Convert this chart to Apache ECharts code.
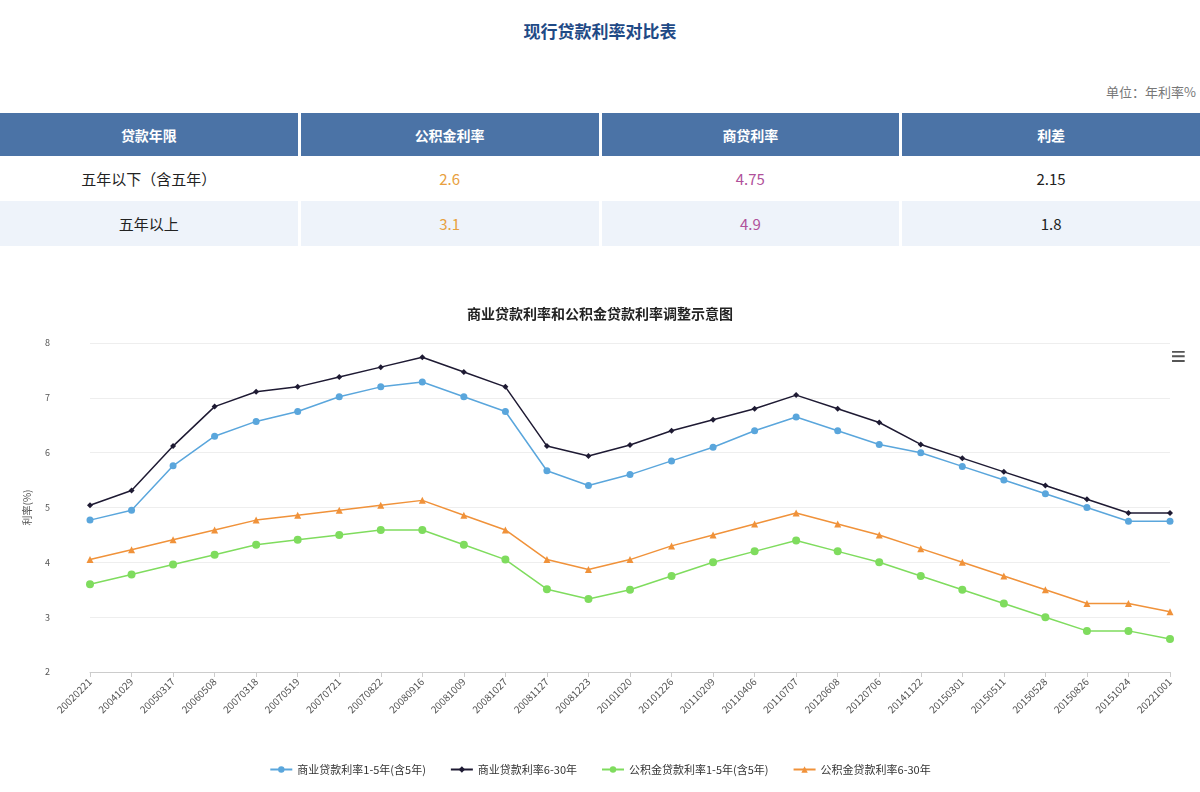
<!DOCTYPE html>
<html><head><meta charset="utf-8">
<script src="https://cdn.jsdelivr.net/npm/echarts@6/dist/echarts.min.js"></script>
<style>
body{margin:0;width:1200px;height:792px;background:#fff;font-family:"Noto Sans CJK SC",sans-serif;overflow:hidden;position:relative}
#t{position:absolute;top:18px;width:1200px;text-align:center;font-size:17px;font-weight:bold;color:#1f4a86}
#u{position:absolute;top:82px;right:4px;font-size:13px;color:#777}
table{position:absolute;top:113px;left:-3px;width:1206px;table-layout:fixed;border-collapse:separate;border-spacing:3px 0;font-size:15px;text-align:center}
th{background:#4b73a6;color:#fff;height:41px;font-weight:bold;font-size:14px}
td{height:43px;color:#222}
tr.r2 td{background:#eef3fa}
#c{position:absolute;top:290px;left:0;width:1200px;height:502px}
</style></head><body>
<div id="t">现行贷款利率对比表</div>
<div id="u">单位：年利率%</div>
<table>
<tr><th>贷款年限</th><th>公积金利率</th><th>商贷利率</th><th>利差</th></tr>
<tr><td>五年以下（含五年）</td><td style="color:#e8a040">2.6</td><td style="color:#b0509a">4.75</td><td>2.15</td></tr>
<tr class="r2"><td>五年以上</td><td style="color:#e8a040">3.1</td><td style="color:#b0509a">4.9</td><td>1.8</td></tr>
</table>
<div id="c"></div>
<script>
const dates=['20020221','20041029','20050317','20060508','20070318','20070519','20070721','20070822','20080916','20081009','20081027','20081127','20081223','20101020','20101226','20110209','20110406','20110707','20120608','20120706','20141122','20150301','20150511','20150528','20150826','20151024','20221001'];
const com15=[4.77,4.95,5.76,6.30,6.57,6.75,7.02,7.20,7.29,7.02,6.75,5.67,5.40,5.60,5.85,6.10,6.40,6.65,6.40,6.15,6.00,5.75,5.50,5.25,5.00,4.75,4.75];
const com630=[5.04,5.31,6.12,6.84,7.11,7.20,7.38,7.56,7.74,7.47,7.20,6.12,5.94,6.14,6.40,6.60,6.80,7.05,6.80,6.55,6.15,5.90,5.65,5.40,5.15,4.90,4.90];
const pf15=[3.60,3.78,3.96,4.14,4.32,4.41,4.50,4.59,4.59,4.32,4.05,3.51,3.33,3.50,3.75,4.00,4.20,4.40,4.20,4.00,3.75,3.50,3.25,3.00,2.75,2.75,2.60];
const pf630=[4.05,4.23,4.41,4.59,4.77,4.86,4.95,5.04,5.13,4.86,4.59,4.05,3.87,4.05,4.30,4.50,4.70,4.90,4.70,4.50,4.25,4.00,3.75,3.50,3.25,3.25,3.10];
const names=['商业贷款利率1-5年(含5年)','商业贷款利率6-30年','公积金贷款利率1-5年(含5年)','公积金贷款利率6-30年'];
const ch=echarts.init(document.getElementById('c'));
function s(n,d,c,sym,sz){return {name:n,type:'line',data:d,symbol:sym,symbolSize:sz,itemStyle:{color:c},lineStyle:{color:c,width:1.5}};}
ch.setOption({
 animation:false,
 textStyle:{fontFamily:'Noto Sans CJK SC'},
 title:{text:'商业贷款利率和公积金贷款利率调整示意图',left:'center',top:12,textStyle:{fontSize:14,fontWeight:'bold',color:'#222'}},
 graphic:[{type:'text',right:14,top:55,style:{text:'≡',fontSize:26,fill:'#555'}}],
 legend:{bottom:12,itemWidth:22,itemHeight:8,itemGap:24,textStyle:{fontSize:11,color:'#333'},data:names},
 grid:{left:90,right:30,top:53,bottom:120},
 xAxis:{type:'category',boundaryGap:false,data:dates,axisLine:{lineStyle:{color:'#ccc'}},axisTick:{alignWithLabel:true,lineStyle:{color:'#ccc'}},axisLabel:{rotate:45,fontSize:10,color:'#555',interval:0}},
 yAxis:{type:'value',min:2,max:8,interval:1,name:'利率(%)',nameLocation:'middle',nameGap:58,nameTextStyle:{fontSize:10,color:'#555'},axisLabel:{fontSize:9,color:'#555',margin:40},splitLine:{lineStyle:{color:'#eee'}},axisLine:{show:false},axisTick:{show:false}},
 series:[s(names[0],com15,'#5aa6dc','circle',7),s(names[1],com630,'#1e1a33','diamond',6),s(names[2],pf15,'#7fdc5e','circle',8),s(names[3],pf630,'#f0923a','triangle',7)]
});
</script></body></html>
